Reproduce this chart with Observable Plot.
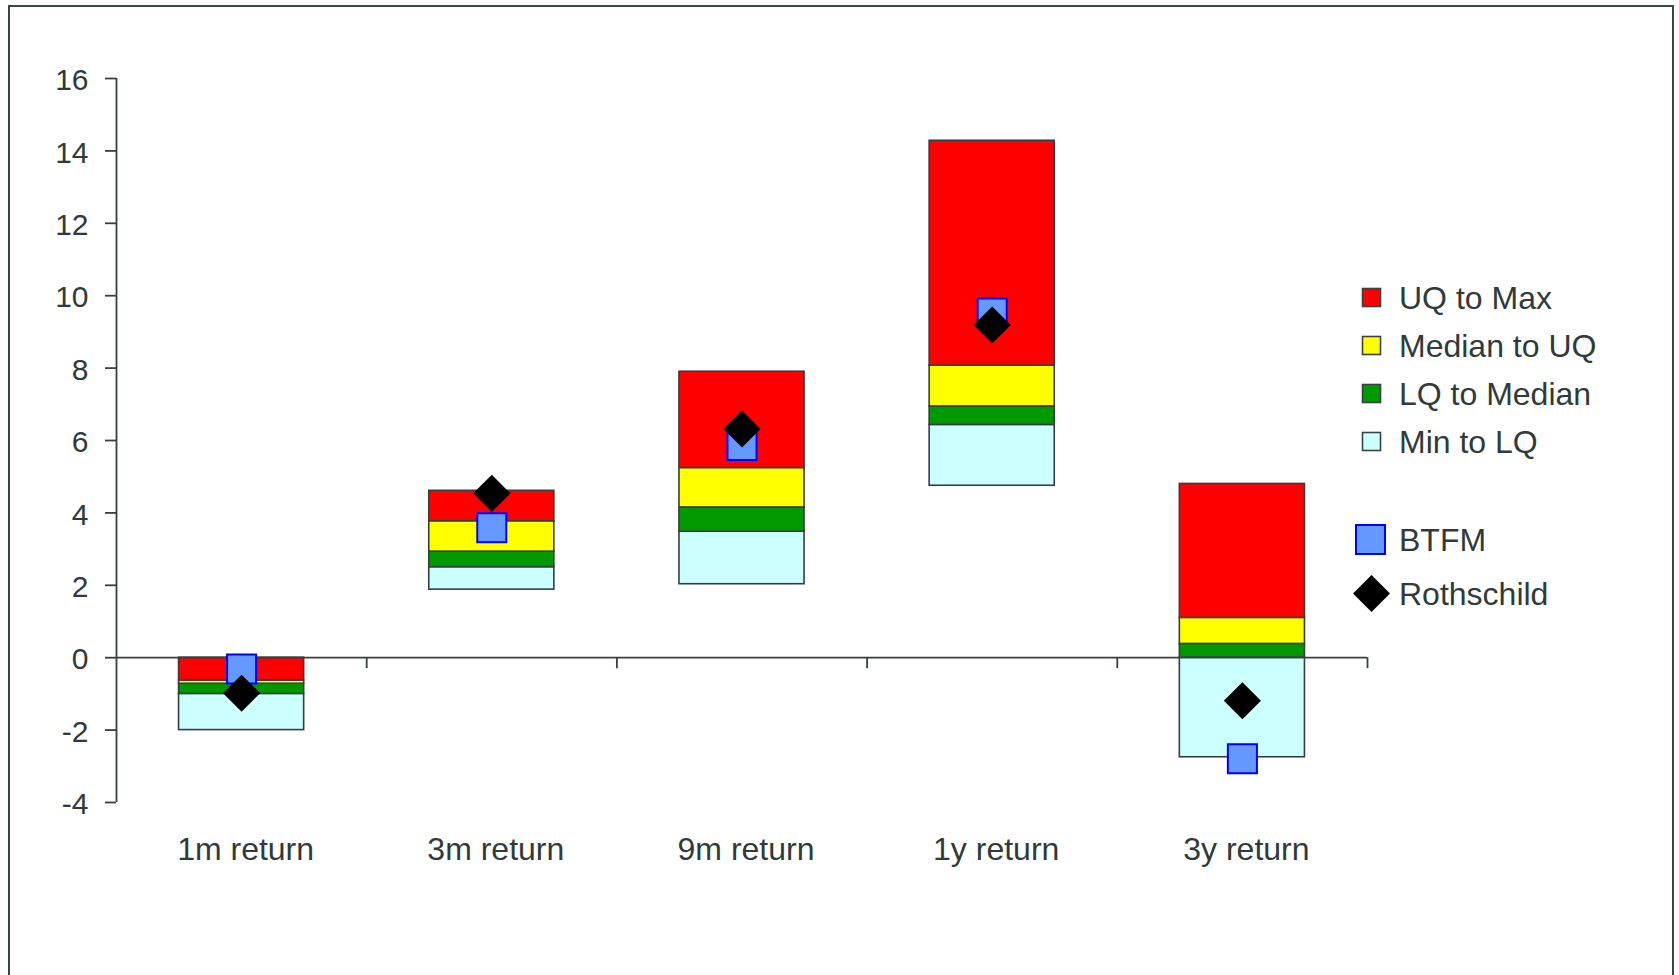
<!DOCTYPE html>
<html>
<head>
<meta charset="utf-8">
<script src="https://cdn.jsdelivr.net/npm/d3@7"></script>
<script src="https://cdn.jsdelivr.net/npm/@observablehq/plot@0.6"></script>
<style>
  html, body { margin: 0; padding: 0; background: #fff; overflow: hidden; }
  body { width: 1679px; height: 975px; position: relative; font-family: "Liberation Sans", Arial, sans-serif; }
  #frame { position: absolute; left: 8px; top: 5px; width: 1666px; height: 1100px; box-sizing: border-box; border: 2px solid #3b4545; }
  #chart { position: absolute; left: 0; top: 0; }
  #legend { position: absolute; left: 0; top: 0; width: 1679px; height: 975px; pointer-events: none; }
  .item { position: absolute; left: 1352px; height: 40px; display: flex; align-items: center; font-size: 32px; color: #2f3a3a; }
  .item svg { width: 40px; height: 40px; margin-right: 7px; }
</style>
</head>
<body>
<div id="frame"></div>
<div id="chart"></div>
<div id="legend"></div>
<script>
// Return periods along the x axis
const categories = ["1m return", "3m return", "9m return", "1y return", "3y return"];

// Peer-group distribution for each period (%)
const mins    = [-2.00, 1.88, 2.03, 4.75, -2.75];
const lqs     = [-1.00, 2.50, 3.48, 6.43,  0.00];
const medians = [-0.72, 2.93, 4.15, 6.94,  0.38];
const uqs     = [-0.63, 3.77, 5.24, 8.07,  1.10];
const maxs    = [ 0.00, 4.61, 7.90, 14.28, 4.80];

// Individual fund returns (%)
const btfm       = [-0.31, 3.59, 5.86, 9.52, -2.79];
const rothschild = [-0.98, 4.54, 6.32, 9.19, -1.19];

// Bands and legend labels
const bandNames  = ["UQ to Max", "Median to UQ", "LQ to Median", "Min to LQ"];
const bandColors = ["#ff0000", "#ffff00", "#009900", "#ccffff"];

const yTicks = [-4, -2, 0, 2, 4, 6, 8, 10, 12, 14, 16];

// Stacked band segments: one rect per quartile range
const segments = [];
categories.forEach((c, i) => {
  const edges = [mins[i], lqs[i], medians[i], uqs[i], maxs[i]];
  for (let k = 0; k < 4; k++) {
    segments.push({i, lo: edges[k], hi: edges[k + 1], band: bandNames[3 - k], color: bandColors[3 - k]});
  }
});

const points = categories.map((c, i) => ({i, btfm: btfm[i], roth: rothschild[i]}));

const axisColor = "#36403f";

const chart = Plot.plot({
  width: 1679,
  height: 975,
  marginLeft: 116,
  marginRight: 312,
  marginTop: 78,
  marginBottom: 173,
  style: {fontFamily: "'Liberation Sans', Arial, sans-serif", color: "#2f3a3a", background: "transparent"},
  x: {type: "linear", domain: [0, categories.length], axis: null},
  y: {domain: [-4, 16], axis: null},
  marks: [
    Plot.rect(segments, {
      x1: d => d.i + 0.25, x2: d => d.i + 0.75,
      y1: "lo", y2: "hi",
      fill: "color", stroke: "#363d3d", strokeWidth: 1.6
    }),
    // axis lines
    Plot.ruleY([0], {stroke: axisColor, strokeWidth: 1.8}),
    Plot.ruleX([0], {stroke: axisColor, strokeWidth: 1.8}),
    // category boundary ticks hanging below the zero line
    Plot.ruleX(d3.range(1, categories.length + 1), {y1: 0, y2: 0, insetBottom: -11, stroke: axisColor, strokeWidth: 1.8}),
    // y tick marks pointing left of the axis line
    Plot.ruleY(yTicks, {x1: 0, x2: 0, insetLeft: -11, stroke: axisColor, strokeWidth: 1.8}),
    Plot.axisY({ticks: yTicks, tickSize: 0, tickPadding: 28, fontSize: 30, dy: 2, tickFormat: d => String(d)}),
    Plot.axisX({
      ticks: categories.map((c, i) => i + 0.5),
      tickFormat: d => categories[Math.floor(d)],
      tickSize: 0, tickPadding: 35, fontSize: 32, dx: 4
    }),
    Plot.dot(points, {x: d => d.i + 0.5, y: "btfm", symbol: "square", r: 16.4, fill: "#6699ff", stroke: "#0000ff", strokeWidth: 2}),
    Plot.dot(points, {x: d => d.i + 0.5, y: "roth", symbol: "square", rotate: 45, r: 14.8, fill: "#000000", stroke: "none"})
  ]
});
document.getElementById("chart").appendChild(chart);

// Legend
const legend = document.getElementById("legend");
const rowCenters = [298, 346, 394, 442];
bandNames.forEach((name, k) => {
  const row = document.createElement("div");
  row.className = "item";
  row.style.top = (rowCenters[k] - 20) + "px";
  row.innerHTML = `<svg viewBox="0 0 40 40"><rect x="10.5" y="10.5" width="18" height="18" fill="${bandColors[k]}" stroke="#3a4242" stroke-width="1.6"/></svg><span>${name}</span>`;
  legend.appendChild(row);
});
const fundRows = [
  {name: "BTFM", center: 540, svg: `<rect x="4" y="5" width="29" height="29" fill="#6699ff" stroke="#0000ff" stroke-width="2"/>`},
  {name: "Rothschild", center: 594, svg: `<path d="M19.5 1 L38 19.5 L19.5 38 L1 19.5 Z" fill="#000"/>`}
];
fundRows.forEach(f => {
  const row = document.createElement("div");
  row.className = "item";
  row.style.top = (f.center - 20) + "px";
  row.innerHTML = `<svg viewBox="0 0 40 40">${f.svg}</svg><span>${f.name}</span>`;
  legend.appendChild(row);
});
</script>
</body>
</html>
